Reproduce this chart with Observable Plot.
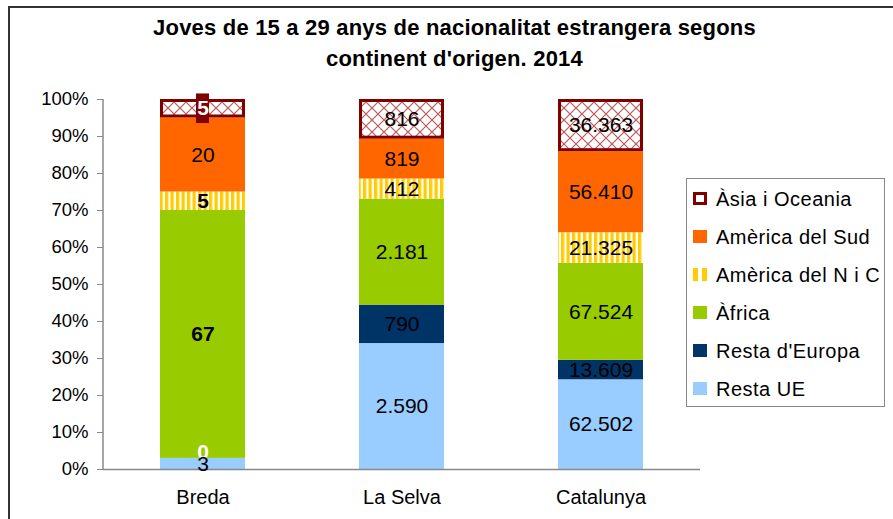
<!DOCTYPE html>
<html><head><meta charset="utf-8">
<script src="https://cdn.jsdelivr.net/npm/d3@7"></script>
<script src="https://cdn.jsdelivr.net/npm/@observablehq/plot@0.6"></script>
<style>
body{margin:0;background:#fff;overflow:hidden;font-family:"Liberation Sans",Arial,sans-serif;}
#wrap{position:relative;width:893px;height:519px;overflow:hidden;}
#frame{position:absolute;left:8px;top:6px;width:1000px;height:1000px;border:2px solid #333;box-sizing:border-box;}
#chart{position:absolute;left:0;top:0;}
#title{position:absolute;left:8px;top:12px;width:893px;text-align:center;font-weight:bold;font-size:22px;letter-spacing:0.2px;line-height:31px;color:#000;}
#legend{position:absolute;left:686px;top:178px;width:199px;height:229px;border:1px solid #888;box-sizing:border-box;background:#fff;}
.item{position:absolute;left:0;height:24px;width:198px;}
.sw{position:absolute;left:6px;top:5px;width:14px;height:13px;box-sizing:border-box;}
.lt{position:absolute;left:29px;top:0;font-size:20px;letter-spacing:0.5px;line-height:24px;color:#000;white-space:nowrap;}
</style></head>
<body>
<div id="wrap">
  <div id="frame"></div>
  <div id="chart"></div>
  <div id="title">Joves de 15 a 29 anys de nacionalitat estrangera segons<br>continent d'origen. 2014</div>
  <div id="legend"></div>
</div>
<script>
// ---- data ----
const cities = ["Breda", "La Selva", "Catalunya"];
const continents = ["Resta UE", "Resta d'Europa", "Àfrica", "Amèrica del N i C", "Amèrica del Sud", "Àsia i Oceania"];
const breda = [3, 0, 67, 5, 20, 5];
const laSelva = [2590, 790, 2181, 412, 819, 816];
const catalunya = [62502, 13609, 67524, 21325, 56410, 36363];
const yTicks = [0, 10, 20, 30, 40, 50, 60, 70, 80, 90, 100];
const legendOrder = ["Àsia i Oceania", "Amèrica del Sud", "Amèrica del N i C", "Àfrica", "Resta d'Europa", "Resta UE"];

// ---- styles ----
const colorRange = ["#99CCFF", "#003366", "#99CC00", "url(#stripes)", "#FF6600", "url(#lattice)"];
const fmt = d3.formatLocale({decimal: ",", thousands: ".", grouping: [3], currency: ["", "€"]}).format(",");

// ---- build rows (percent stacked) ----
const series = [breda, laSelva, catalunya];
const rows = [];
cities.forEach((city, ci) => {
  const vals = series[ci];
  const total = d3.sum(vals);
  let acc = 0;
  continents.forEach((cont, k) => {
    const p = vals[k] / total * 100;
    rows.push({city, continent: cont, value: vals[k], y1: acc, y2: acc + p});
    acc += p;
  });
});
const mid = d => (d.y1 + d.y2) / 2;
const isBreda = d => d.city === "Breda";
const zeroLabel = d => d.value === 0;
const whiteBold = d => isBreda(d) && d.continent === "Àsia i Oceania";
const boldLabel = d => isBreda(d) && (d.continent === "Àfrica" || d.continent === "Amèrica del N i C");

const defsMark = () => {
  const defs = d3.create("svg:defs");
  const s = defs.append("pattern").attr("id", "stripes").attr("patternUnits", "userSpaceOnUse").attr("width", 5.5).attr("height", 10);
  s.append("rect").attr("width", 5.5).attr("height", 10).attr("fill", "#FFCC00");
  s.append("rect").attr("x", 3.3).attr("width", 2.2).attr("height", 10).attr("fill", "#fff");
  const l = defs.append("pattern").attr("id", "lattice").attr("patternUnits", "userSpaceOnUse").attr("width", 12).attr("height", 12);
  l.append("rect").attr("width", 12).attr("height", 12).attr("fill", "#fff");
  l.append("path").attr("d", "M0,0L12,12M12,0L0,12").attr("stroke", "#B85858").attr("stroke-width", 1.2);
  return defs.node();
};
const yAxisLine = (index, scales, values, dims) => {
  const g = d3.create("svg:line")
    .attr("x1", dims.marginLeft).attr("x2", dims.marginLeft)
    .attr("y1", dims.marginTop).attr("y2", dims.height - dims.marginBottom)
    .attr("stroke", "#888").attr("stroke-width", 1.5);
  return g.node();
};

const plot = Plot.plot({
  width: 893, height: 519,
  marginLeft: 103, marginRight: 193, marginTop: 99, marginBottom: 50,
  style: {fontFamily: "'Liberation Sans', Arial, sans-serif", fontSize: "18px", background: "transparent", color: "#000"},
  x: {domain: cities, paddingInner: 0.573, paddingOuter: 0.2865, label: null},
  y: {domain: [0, 100], label: null},
  color: {domain: continents, range: colorRange},
  marks: [
    defsMark,
    Plot.barY(rows.filter(d => d.continent !== "Àsia i Oceania"), {x: "city", y1: "y1", y2: "y2", fill: "continent"}),
    Plot.barY(rows.filter(d => d.continent === "Àsia i Oceania"), {x: "city", y1: "y1", y2: "y2", fill: "continent", stroke: "#800000", strokeWidth: 3, inset: 1.5}),
    Plot.barY(rows.filter(whiteBold), {x: "city", y1: d => d.y1 - 1.5, y2: d => d.y2 + 1.5, fill: "#800000", insetLeft: 36, insetRight: 36}),
    Plot.ruleY([0], {stroke: "#888", strokeWidth: 1.5}),
    yAxisLine,
    Plot.axisY({ticks: yTicks, tickFormat: d => d + "%", tickSize: 6, tickPadding: 9, fontSize: 18.5, stroke: "#888", label: null}),
    Plot.axisX({tickSize: 0, tickPadding: 20, fontSize: 20, label: null}),
    Plot.text(rows.filter(zeroLabel), {x: "city", y: mid, text: d => fmt(d.value), fill: "#fff", fontSize: 21, fontWeight: "bold", dy: -6}),
    Plot.text(rows.filter(d => !zeroLabel(d) && !whiteBold(d) && !boldLabel(d)), {x: "city", y: mid, text: d => fmt(d.value), fill: "#000", fontSize: 21}),
    Plot.text(rows.filter(boldLabel), {x: "city", y: mid, text: d => fmt(d.value), fill: "#000", fontSize: 21, fontWeight: "bold"}),
    Plot.text(rows.filter(whiteBold), {x: "city", y: mid, text: d => fmt(d.value), fill: "#fff", fontSize: 21, fontWeight: "bold"})
  ]
});
document.getElementById("chart").appendChild(plot);

// ---- legend ----
const legend = d3.select("#legend");
const swatchStyle = {
  "Àsia i Oceania": "background:#fff;border:3px solid #800000;",
  "Amèrica del Sud": "background:#FF6600;",
  "Amèrica del N i C": "background:linear-gradient(to right,#FFCC00 0 5px,#fff 5px 9px,#FFCC00 9px);",
  "Àfrica": "background:#99CC00;",
  "Resta d'Europa": "background:#003366;",
  "Resta UE": "background:#99CCFF;"
};
legendOrder.forEach((name, i) => {
  const it = legend.append("div").attr("class", "item").style("top", (8 + i * 38) + "px");
  it.append("div").attr("class", "sw").attr("style", swatchStyle[name]);
  it.append("div").attr("class", "lt").text(name);
});
</script>
</body></html>
